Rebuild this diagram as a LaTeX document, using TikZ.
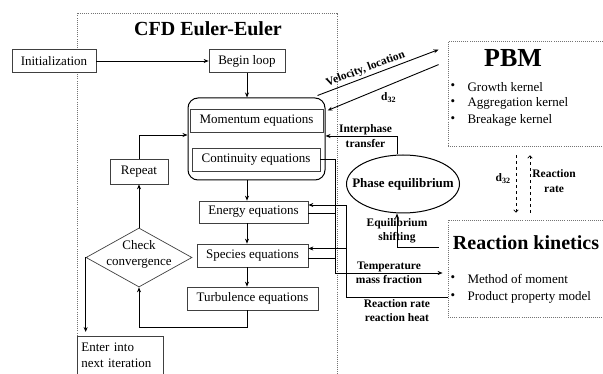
\documentclass[tikz,border=0pt]{standalone}
\usepackage{fontspec}
\setmainfont{Liberation Serif}
\usetikzlibrary{shapes.geometric,arrows.meta}

\tikzset{
	blk/.style={draw=black!75, line width=0.7pt, fill=white, inner sep=2pt},
	frame/.style={draw=black!55, line width=0.8pt, dash pattern=on 0.8pt off 1.3pt},
	lbl/.style={font=\fontsize{11.5}{14.5}\selectfont\bfseries, align=center, inner sep=2pt},
	bigtitle/.style={font=\fontsize{20}{24}\selectfont\bfseries},
	flow/.style={line width=0.9pt, -{Stealth[length=5pt,width=4pt]}},
	link/.style={line width=0.9pt},
	dashflow/.style={line width=0.8pt, dashed, -{To[length=3pt,width=5pt]}}
}

\begin{document}
\begin{tikzpicture}[x=1pt, y=-1pt, font=\fontsize{13}{16}\selectfont]
	\clip (0,0) rectangle (603,374);
	\draw[frame] (77,390) |- (337,13) -- (337,390);
	\node[bigtitle] (cfd) at (208,29) {CFD Euler-Euler};
	\node[blk, minimum width=84, minimum height=23] (init) at (54,61) {Initialization};
	\node[blk, minimum width=76, minimum height=23] (begin) at (247,61) {Begin loop};
	\node[draw, rounded corners=10pt, line width=1pt, minimum width=137, minimum height=82] (eqs) at (256.5,139) {};
	\node[blk, minimum width=133, minimum height=23] (mom) at (256.5,121) {Momentum equations};
	\node[blk, minimum width=128, minimum height=23] (cont) at (256,159.5) {Continuity equations};
	\node[blk, minimum width=109, minimum height=22] (energy) at (253.5,212) {Energy equations};
	\node[blk, minimum width=111, minimum height=23] (species) at (252.5,255.5) {Species equations};
	\node[blk, minimum width=131, minimum height=23] (turb) at (252.5,298.5) {Turbulence equations};
	\node[blk, minimum width=58, minimum height=25] (repeat) at (139,171.5) {Repeat};
	\node[diamond, draw=black!75, line width=0.7pt, minimum width=106, minimum height=59, inner sep=0pt] (check) at (139,257.5) {};
	\node[align=center] (checktext) at (139,254) {Check\\convergence};
	\node[blk, anchor=north west, text width=78pt, align=left, inner xsep=4pt, inner ysep=7pt] (enter) at (77,336) {Enter into\\next iteration\\\strut};

	\draw[flow] (init) -- (begin);
	\draw[flow] (begin) -- (begin |- eqs.north);
	\draw[flow] (eqs.south -| begin) -- (energy.north -| begin);
	\draw[flow] (energy.south -| begin) -- (species.north -| begin);
	\draw[flow] (species.south -| begin) -- (turb.north -| begin);
	\draw[flow] (turb.south -| begin) -- ++(0,17) -| (check.south);
	\draw[flow] (check.north) -- (repeat);
	\draw[flow] (repeat) |- ([yshift=4pt]eqs.west);
	\draw[flow] (check.west) -- ([yshift=4pt]check.west |- enter.north);

	\node[frame, minimum width=155, minimum height=105] (pbm) at (525.5,93.5) {};
	\node[font=\fontsize{26}{30}\selectfont\bfseries] (pbmtitle) at (513,58) {PBM};
	\node (b1) at (453,87) {\textbullet};
	\node (b2) at (453,103) {\textbullet};
	\node (b3) at (453,120) {\textbullet};
	\node[anchor=west] (grow) at (464,87) {Growth kernel};
	\node[anchor=west] (aggr) at (464,103) {Aggregation kernel};
	\node[anchor=west] (brk) at (464,120) {Breakage kernel};

	\node[frame, minimum width=155, minimum height=97] (rk) at (525.5,268.5) {};
	\node[bigtitle] (rktitle) at (526,243) {Reaction kinetics};
	\node (b4) at (453,279) {\textbullet};
	\node (b5) at (453,297) {\textbullet};
	\node[anchor=west] (mom2) at (464,279) {Method of moment};
	\node[anchor=west] (ppm) at (464,297) {Product property model};

	\node[ellipse, draw, line width=1pt, minimum width=113, minimum height=58, inner sep=0pt] (phase) at (403,184) {};
	\node[font=\fontsize{13}{16}\selectfont\bfseries] (phasetext) at (403,184) {Phase equilibrium};

	\draw[flow] ([shift={(-8pt,2pt)}]eqs.north east) -- node[lbl, sloped, above, pos=0.42] {Velocity, location} ([shift={(-9pt,-9pt)}]pbm.north west);
	\draw[flow] ([shift={(-9pt,-24pt)}]pbm.north west) -- node[lbl, below=5pt, pos=0.45] {d\textsubscript{32}} ([shift={(2pt,-13pt)}]eqs.north east);
	\draw[flow] ([xshift=-6pt]phase.north) |- node[lbl, pos=0.72] {Interphase\\transfer} ([yshift=3pt]eqs.east);
	\draw[flow] ([shift={(-9pt,-28pt)}]rk.north west) -| node[lbl, pos=0.75] {Equilibrium\\shifting} ([xshift=-6pt]phase.south);

	\draw[flow] (cont.east) -- ++(15,0) |- node[lbl, pos=0.75] {Temperature\\mass fraction} ([shift={(-5pt,-4.5pt)}]rk.west);
	\draw[link] ([yshift=-1pt]energy.east) -- ++(27,0);
	\draw[link] ([yshift=-2.5pt]species.east) -- ++(27,0);
	\draw[link] ([yshift=-28.5pt]rk.west) -| node[lbl, below, pos=0.25] {Reaction rate\\reaction heat} ([shift={(38pt,7pt)}]energy.east);
	\draw[flow] ([shift={(38pt,7pt)}]energy.east) -- ([yshift=7pt]energy.east);
	\draw[flow] ([shift={(38pt,7pt)}]species.east) -- ([yshift=7pt]species.east);

	\draw[dashflow] ([shift={(-9.5pt,-9pt)}]pbm.south) -- node[lbl, left=3pt, pos=0.4] {d\textsubscript{32}} ([shift={(-9.5pt,7pt)}]rk.north);
	\draw[dashflow] ([shift={(4.5pt,7pt)}]rk.north) -- node[lbl, right, pos=0.55] {Reaction\\rate} ([shift={(4.5pt,-9pt)}]pbm.south);
\end{tikzpicture}
\end{document}
